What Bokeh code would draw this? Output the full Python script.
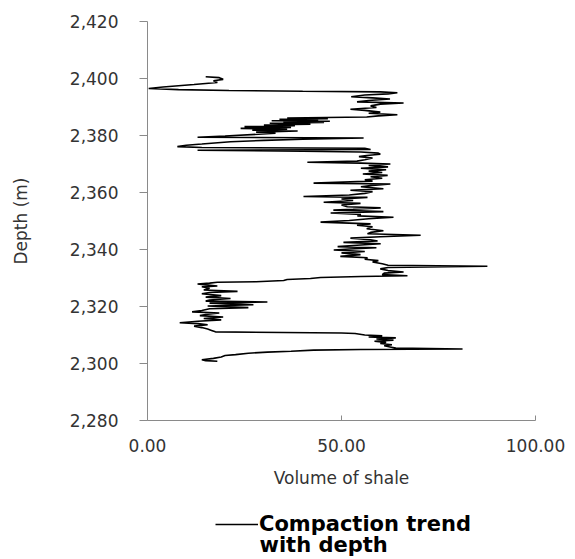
from bokeh.plotting import figure
from bokeh.layouts import column
from bokeh.models import Range1d, FixedTicker, NumeralTickFormatter, Legend, LegendItem, ColumnDataSource, Label
from bokeh.embed import file_html
from bokeh.resources import INLINE

# ---- data ----
depth = [2400.6, 2400.3, 2399.7, 2399.2, 2398.6, 2397.9, 2397.0, 2396.5, 2396.1, 2395.8,
         2395.5, 2395.3, 2395.0, 2394.6, 2394.2, 2393.6, 2393.2, 2392.8, 2392.3, 2391.8,
         2391.4, 2391.0, 2390.4, 2389.8, 2389.2, 2388.8, 2388.2, 2387.8, 2387.3, 2386.9,
         2386.5, 2386.3, 2386.1, 2385.9, 2385.7, 2385.5, 2385.2, 2385.0, 2384.8, 2384.6,
         2384.3, 2384.0, 2383.7, 2383.4, 2383.1, 2382.8, 2382.5, 2382.2, 2381.9, 2381.6,
         2381.2, 2380.8, 2379.8, 2379.4, 2379.1, 2378.7, 2378.3, 2377.8, 2377.0, 2376.6,
         2376.1, 2375.8, 2375.5, 2375.1, 2374.8, 2374.5, 2374.2, 2373.8, 2373.4, 2373.0,
         2372.6, 2372.1, 2371.5, 2371.0, 2370.6, 2370.3, 2370.0, 2369.5, 2369.0, 2368.5,
         2368.0, 2367.5, 2367.0, 2366.5, 2366.0, 2365.5, 2365.0, 2364.5, 2364.0, 2363.3,
         2363.0, 2362.5, 2362.0, 2361.3, 2360.8, 2360.3, 2359.7, 2359.1, 2358.6, 2358.3,
         2357.7, 2357.2, 2356.6, 2356.2, 2355.6, 2355.0, 2354.6, 2354.1, 2353.8, 2353.3,
         2352.8, 2352.3, 2351.8, 2351.3, 2350.8, 2350.2, 2349.6, 2349.0, 2348.5, 2348.0,
         2347.3, 2346.6, 2346.0, 2345.5, 2345.0, 2344.5, 2344.0, 2343.4, 2343.0, 2342.5,
         2342.0, 2341.5, 2341.0, 2340.6, 2340.2, 2339.8, 2339.3, 2338.8, 2338.2, 2337.6,
         2337.1, 2336.6, 2336.1, 2335.6, 2335.0, 2334.5, 2334.1, 2333.7, 2333.2, 2332.6,
         2332.1, 2331.7, 2331.2, 2330.8, 2330.5, 2330.2, 2329.8, 2329.5, 2329.1, 2328.7,
         2328.5, 2328.2, 2327.9, 2327.6, 2327.2, 2326.9, 2326.4, 2325.8, 2325.3, 2324.9,
         2324.5, 2323.8, 2323.3, 2322.8, 2322.3, 2321.9, 2321.6, 2321.2, 2320.6, 2320.2,
         2319.6, 2319.2, 2318.6, 2318.1, 2317.7, 2317.2, 2316.8, 2316.3, 2315.8, 2315.3,
         2314.8, 2314.3, 2314.0, 2313.6, 2313.1, 2312.6, 2312.1, 2311.6, 2311.1, 2310.9,
         2310.7, 2310.5, 2310.0, 2309.7, 2309.3, 2309.0, 2308.6, 2308.2, 2307.8, 2307.4,
         2307.0, 2306.6, 2306.2, 2305.8, 2305.4, 2305.1, 2304.9, 2304.7, 2304.3, 2304.0,
         2303.6, 2303.1, 2302.8, 2302.3, 2301.8, 2301.3, 2301.0, 2300.8]

vshale = [15.0, 18.5, 19.5, 17.0, 18.0, 12.0, 4.0, 0.3, 8.0, 21.0,
          40.0, 60.0, 64.4, 62.0, 56.0, 52.5, 58.0, 62.5, 57.0, 54.0,
          66.0, 60.0, 57.5, 59.0, 52.3, 56.0, 60.0, 57.0, 64.4, 59.5,
          56.5, 46.0, 36.0, 46.5, 34.0, 44.0, 32.0, 47.0, 35.0, 45.5,
          31.5, 42.0, 30.0, 38.0, 25.0, 37.0, 24.0, 36.0, 27.0, 38.7,
          28.0, 33.0, 20.0, 12.9, 55.7, 40.0, 30.0, 21.4, 14.0, 10.0,
          7.7, 14.0, 56.0, 57.5, 12.9, 40.0, 55.0, 59.5, 60.0, 56.5,
          54.5, 58.0, 56.0, 54.0, 41.2, 55.0, 62.6, 57.0, 62.0, 55.0,
          61.5, 57.0, 60.5, 55.5, 61.9, 57.5, 60.5, 56.0, 58.0, 42.8,
          62.6, 58.0, 55.0, 60.8, 52.3, 58.0, 56.0, 52.0, 40.2, 56.7,
          50.0, 53.0, 45.4, 54.9, 50.0, 51.5, 60.1, 53.0, 47.9, 60.8,
          47.2, 55.0, 54.1, 63.4, 57.0, 52.0, 44.6, 57.5, 54.0, 58.0,
          56.5, 60.8, 57.5, 56.7, 70.4, 60.0, 52.3, 57.5, 59.3, 50.5,
          60.1, 54.0, 49.0, 59.0, 52.0, 48.0, 56.0, 50.0, 54.9, 49.7,
          56.7, 56.0, 59.5, 58.0, 60.5, 62.0, 87.6, 62.0, 60.0, 62.0,
          66.0, 61.0, 60.5, 67.0, 55.0, 44.6, 42.0, 36.0, 35.1, 28.0,
          18.0, 16.0, 12.9, 15.0, 18.0, 14.0, 16.0, 14.5, 23.2, 16.0,
          14.0, 19.0, 15.0, 21.4, 16.0, 15.0, 30.9, 16.0, 27.3, 15.5,
          26.0, 16.0, 14.0, 11.5, 18.5, 15.0, 13.5, 19.5, 14.5, 19.0,
          13.0, 8.3, 13.0, 15.5, 12.0, 14.0, 15.5, 16.5, 17.5, 35.0,
          50.0, 53.5, 56.0, 60.5, 57.0, 64.0, 59.0, 63.4, 58.5, 61.5,
          60.0, 63.0, 61.0, 62.5, 64.0, 81.2, 55.0, 42.8, 37.0, 30.9,
          26.0, 22.7, 20.0, 19.0, 17.0, 14.0, 15.0, 18.0]

x_ticks = [0, 50, 100]
y_ticks = [2280, 2300, 2320, 2340, 2360, 2380, 2400, 2420]
series_label_lines = ["Compaction trend", "with depth"]
x_title = "Volume of shale"
y_title = "Depth (m)"

FONT = "DejaVu Sans"
AXIS_GRAY = "#8a8a8a"
TEXT_GRAY = "#333333"
LINE_W = 1.6

src = ColumnDataSource(dict(vsh=vshale, depth=depth))

# ---- main chart ----
p = figure(width=567, height=493, output_backend="svg", toolbar_location=None,
           x_range=Range1d(0, 100), y_range=Range1d(2280, 2420),
           min_border_left=147, min_border_right=32, min_border_top=21, min_border_bottom=73)

p.outline_line_color = None
p.xgrid.visible = False
p.ygrid.visible = False
p.background_fill_color = "white"
p.border_fill_color = "white"

p.line("vsh", "depth", source=src, line_color="black", line_width=LINE_W)

p.xaxis.ticker = FixedTicker(ticks=x_ticks)
p.yaxis.ticker = FixedTicker(ticks=y_ticks)
p.xaxis.formatter = NumeralTickFormatter(format="0.00")
p.yaxis.formatter = NumeralTickFormatter(format="0,0")
for ax in (p.xaxis[0], p.yaxis[0]):
    ax.axis_line_color = AXIS_GRAY
    ax.major_tick_line_color = AXIS_GRAY
    ax.minor_tick_line_color = None
    ax.major_label_text_font = FONT
    ax.major_label_text_font_size = "17px"
    ax.major_label_text_color = TEXT_GRAY
    ax.axis_label_text_font = FONT
    ax.axis_label_text_font_size = "17px"
    ax.axis_label_text_font_style = "normal"
    ax.axis_label_text_color = TEXT_GRAY

p.xaxis.major_tick_in = 5
p.xaxis.major_tick_out = 0
p.xaxis.major_label_standoff = 18
p.xaxis.axis_label = x_title
p.xaxis.axis_label_standoff = 13

p.yaxis.major_tick_in = 0
p.yaxis.major_tick_out = 8
p.yaxis.major_label_standoff = 21
p.yaxis.axis_label = y_title
p.yaxis.axis_label_standoff = 36

# ---- legend strip below the chart (same series, its data out of this strip's view) ----
q = figure(width=567, height=64, output_backend="svg", toolbar_location=None,
           x_range=Range1d(0, 1), y_range=Range1d(0, 1),
           min_border_left=0, min_border_right=0, min_border_top=0, min_border_bottom=0)
q.axis.visible = False
q.xgrid.visible = False
q.ygrid.visible = False
q.outline_line_color = None
q.background_fill_color = "white"
q.border_fill_color = "white"
key = q.line("vsh", "depth", source=src, line_color="black", line_width=LINE_W)

legend = Legend(items=[LegendItem(label=series_label_lines[0], renderers=[key])],
                location=(68, 21), padding=0, margin=0, spacing=0,
                border_line_color=None, background_fill_alpha=0,
                label_standoff=1, glyph_width=43, glyph_height=18,
                label_text_font=FONT, label_text_font_size="21px",
                label_text_font_style="bold", label_text_color="black")
q.add_layout(legend)

q.add_layout(Label(x=112, y=13, x_units="screen", y_units="screen",
                   text=series_label_lines[1], text_font=FONT, text_font_size="21px",
                   text_font_style="bold", text_color="black", text_baseline="alphabetic"))

open("out.html", "w").write(file_html(column(p, q, spacing=0), INLINE))
